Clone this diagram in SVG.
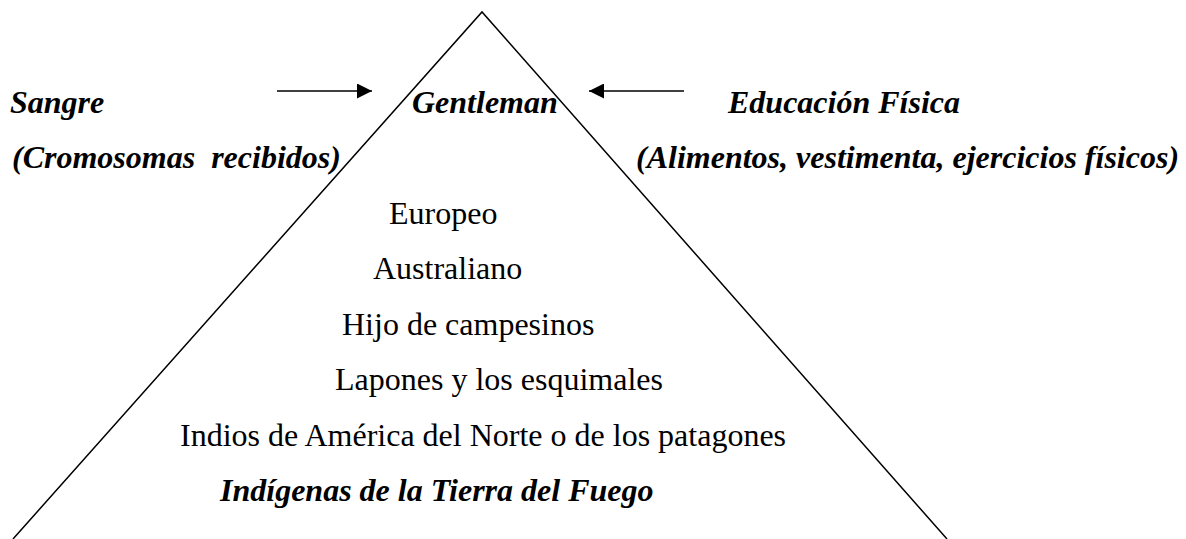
<svg xmlns="http://www.w3.org/2000/svg" width="1186" height="539" viewBox="0 0 1186 539">
<style>
.t{font-family:"Liberation Serif","Times New Roman",serif;font-size:32px;fill:#000}
.bi{font-weight:bold;font-style:italic}
.ln{stroke:#000;stroke-width:1.5;fill:none}
</style>
<defs>
<marker id="ah" viewBox="0 0 15 15" refX="15" refY="7.5" markerWidth="15" markerHeight="15" markerUnits="userSpaceOnUse" orient="auto">
<path d="M0,0 L15,7.5 L0,15 Z" fill="#000"/>
</marker>
</defs>
<rect width="1186" height="539" fill="#fff"/>
<g id="pyramid">
<path class="ln" d="M13,539 L482,12 L947,539"/>
</g>
<g id="connectors">
<line class="ln" x1="277" y1="91" x2="372" y2="91" marker-end="url(#ah)"/>
<line class="ln" x1="684" y1="91" x2="589" y2="91" marker-end="url(#ah)"/>
</g>
<g id="sangre">
<text class="t bi" x="10" y="113">Sangre</text>
<text class="t bi" x="12" y="168" xml:space="preserve">(Cromosomas  recibidos)</text>
</g>
<g id="gentleman">
<text class="t bi" x="412" y="113">Gentleman</text>
</g>
<g id="educacion">
<text class="t bi" x="728" y="113">Educación Física</text>
<text class="t bi" x="636" y="168">(Alimentos, vestimenta, ejercicios físicos)</text>
</g>
<g id="levels">
<text class="t" x="389" y="224">Europeo</text>
<text class="t" x="373" y="279">Australiano</text>
<text class="t" x="342" y="335">Hijo de campesinos</text>
<text class="t" x="335" y="390">Lapones y los esquimales</text>
<text class="t" x="180" y="446">Indios de América del Norte o de los patagones</text>
<text class="t bi" x="220" y="501">Indígenas de la Tierra del Fuego</text>
</g>
</svg>
